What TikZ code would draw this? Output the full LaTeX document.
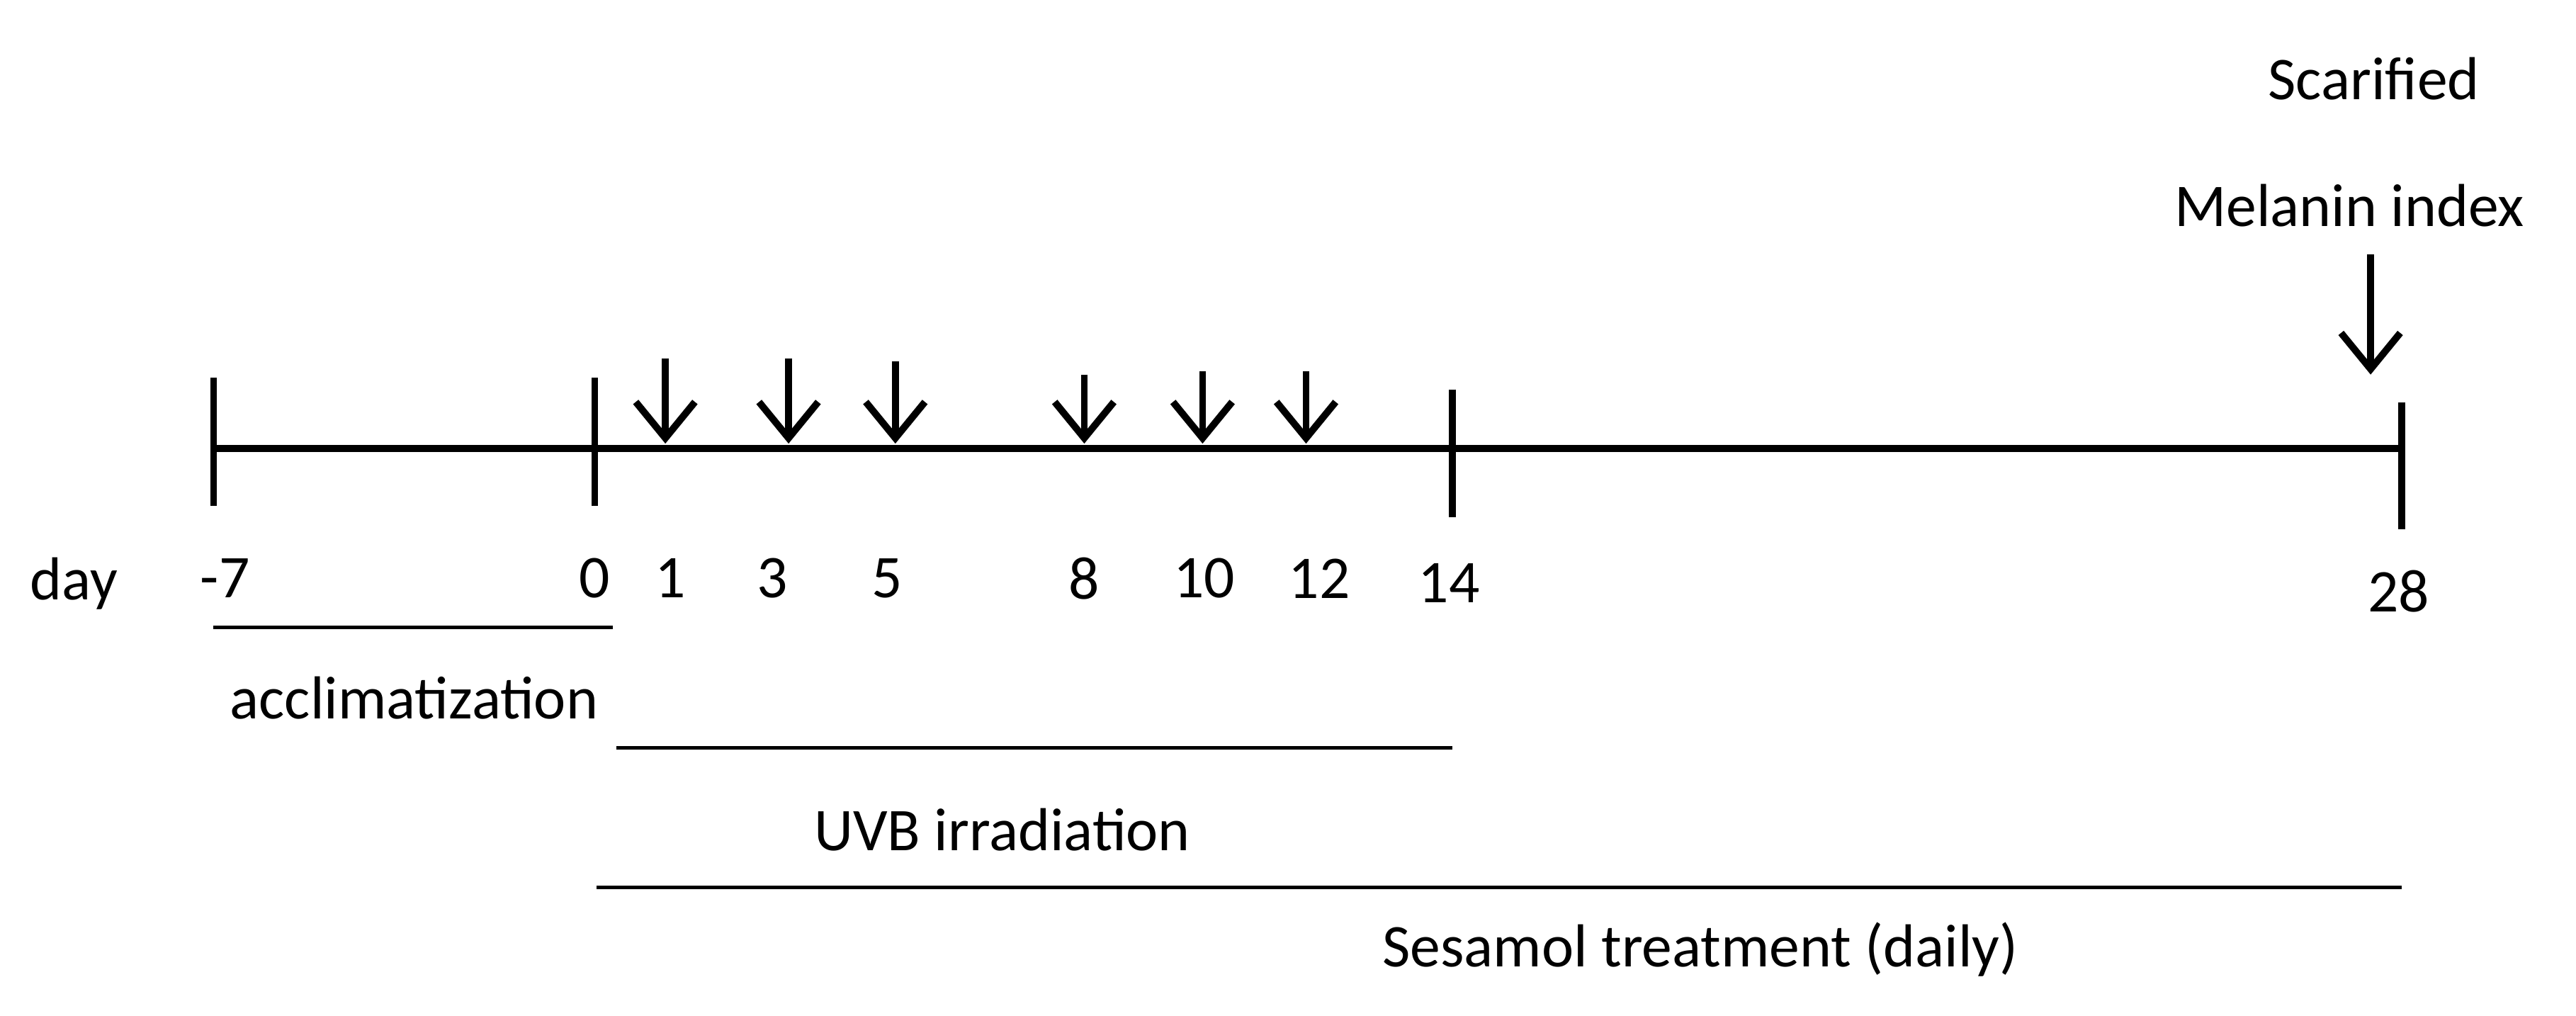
\documentclass[tikz,border=0pt]{standalone}
\usepackage{fontspec}
\setmainfont{Carlito}
\usetikzlibrary{arrows.meta}
\begin{document}
\begin{tikzpicture}[x=0.01cm,y=-0.01cm,
  lbl/.style={font=\fontsize{10.5}{12}\selectfont,inner sep=0pt},
  thickln/.style={line width=1.2pt},
  thinln/.style={line width=0.6pt},
  darrow/.style={line width=1.2pt,-{Straight Barb[length=2.2mm,width=3.6mm,line width=1.2pt]}}]
\useasboundingbox (0,0) rectangle (1568,618);
\coordinate (s) at (130,273); \coordinate (e) at (1462,273);
\draw[thickln] (s) -- (e);
\foreach \n/\x/\a/\b in {t1/130/230/308,t2/362/230/308,t3/884/237/315,t4/1462/245/322}{
  \coordinate (\n a) at (\x,\a); \coordinate (\n b) at (\x,\b);
  \draw[thickln] (\n a) -- (\n b);}
\foreach \n/\x/\a in {a1/405/218,a2/480/218,a3/545/220,a4/660/228,a5/732/226,a6/795/226}{
  \coordinate (\n s) at (\x,\a); \coordinate (\n e) at (\x,270);
  \draw[darrow] (\n s) -- (\n e);}
\coordinate (mA) at (1443,155); \coordinate (mB) at (1443,228);
\draw[darrow] (mA) -- (mB);
\node[lbl] (day) at (45,355) {day};
\foreach \n/\x/\y/\t in {l1/137/352/-7,l2/362/352/0,l3/408/352/1,l4/470/352/3,l5/540/352/5,l6/660/352/8,l7/733/352/10,l8/803/352/12,l9/882/355/14,l10/1460/360/28}
  \node[lbl] (\n) at (\x,\y) {\t};
\coordinate (ac1) at (130,382); \coordinate (ac2) at (373,382);
\draw[thinln] (ac1) -- (ac2);
\node[lbl] (acc) at (252,425) {acclimatization};
\coordinate (u1) at (375,455); \coordinate (u2) at (884,455);
\draw[thinln] (u1) -- (u2);
\node[lbl] (uvb) at (610,505) {UVB irradiation};
\coordinate (se1) at (363,540); \coordinate (se2) at (1462,540);
\draw[thinln] (se1) -- (se2);
\node[lbl] (ses) at (1035,578) {Sesamol treatment (daily)};
\node[lbl] (scar) at (1445,48) {Scarified};
\node[lbl] (mel) at (1430,125) {Melanin index};
\end{tikzpicture}
\end{document}
